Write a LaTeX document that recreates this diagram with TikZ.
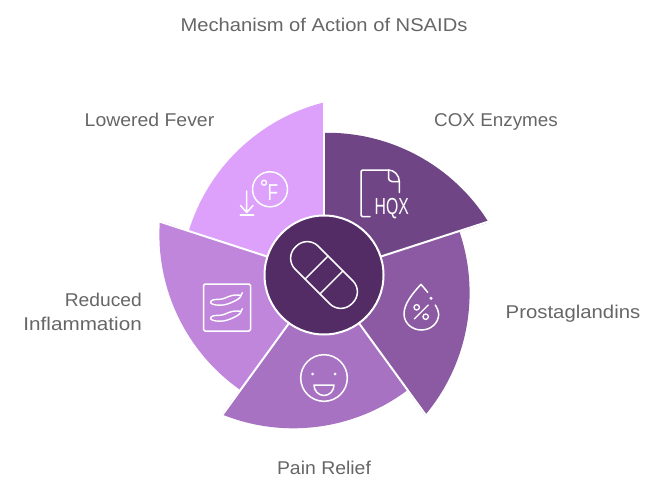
\documentclass[tikz,border=0pt]{standalone}
\usepackage{fontspec}
\setmainfont{Liberation Sans}
\definecolor{hubcol}{HTML}{532C66}
\definecolor{coxcol}{HTML}{6F4585}
\definecolor{procol}{HTML}{8C5AA2}
\definecolor{paincol}{HTML}{A872C2}
\definecolor{inflcol}{HTML}{BF86DC}
\definecolor{fevercol}{HTML}{DDA0FB}
\definecolor{labelcol}{HTML}{666666}
\tikzset{
  label text/.style={text=labelcol,font=\fontsize{18.5}{24}\selectfont,inner sep=0pt,anchor=base},
  icon/.style={draw=white,line width=1.5pt,line cap=round,line join=round},
  icon dot/.style={fill=white,draw=none},
  divider/.style={draw=white,line width=2pt},
}
% one petal of the wheel, turned by #1 about the hub
\newcommand{\petal}[2]{%
  \begin{scope}[shift={(324,275)},x=1pt,y=1pt,rotate=#1]
    \fill[#2] (0,0) -- (18:142.2) arc[start angle=19,end angle=-40.1,radius=190] -- cycle;
  \end{scope}}
% chilli pepper outline, lowered by #1
\newcommand{\pepper}[1]{%
  \draw[icon,line width=1.4pt,shift={(0,#1)}] (211,301)
    .. controls (214,298.5) and (218,300) .. (222,299)
    .. controls (227,297.8) and (230,295) .. (236,295)
    .. controls (238,295) and (240,295.2) .. (241,295.5)
    -- (242.3,292.7) (241,295.5)
    .. controls (241,297.5) and (238,299.5) .. (233.3,301.7)
    .. controls (229,303.7) and (225,305.2) .. (220,305.2)
    .. controls (215,305.2) and (208.5,304) .. (211,301);}
\begin{document}
\begin{tikzpicture}[x=1pt,y=-1pt]
\useasboundingbox (0,0) rectangle (660,492);

% wheel petals
\petal{0}{procol}
\petal{72}{coxcol}
\petal{144}{fevercol}
\petal{216}{inflcol}
\petal{288}{paincol}

% white separators between petals
\begin{scope}[shift={(324,275)},x=1pt,y=1pt]
  \foreach \a in {90,18,-54,-126,162}
    \draw[divider] (\a:50) -- (\a:176);
\end{scope}

% hub
\node[circle,fill=hubcol,draw=white,line width=2pt,minimum size=119pt,inner sep=0pt] (hub) at (324,275) {};

% capsule on the hub
\begin{scope}[shift={(hub.center)},x=1pt,y=1pt,rotate=-45]
  \draw[icon,rounded corners=15.5pt] (-40,-16.3) rectangle (40,16.3);
  \draw[icon] (-10.5,-16.3) -- (-10.5,16.3) (10.5,-16.3) -- (10.5,16.3);
\end{scope}

% file icon
\draw[icon,rounded corners=1.5pt] (370,216.7) -- (361,216.7) -- (361,170) -- (388.5,170);
\draw[icon] (388.5,170) .. controls (394,170) and (399.3,175) .. (399.3,181.5) -- (399.3,192.5);
\draw[icon] (388.5,170) -- (388.5,178) .. controls (388.5,180) and (390,181.5) .. (392,181.5) -- (399.3,181.5);
\node[inner sep=0pt,anchor=base,text=white,font=\fontsize{23.2}{24}\selectfont,xscale=.68] (hqx) at (391.7,214.5) {HQX};

% drop icon
\draw[icon] (427.7,292.3) -- (421,284.3) .. controls (412,294) and (404,304) .. (404,314)
  .. controls (404,323) and (412,330) .. (421.3,330)
  .. controls (431,330) and (438.7,323) .. (438.7,314)
  .. controls (438.7,311) and (437,308) .. (435.3,305);
\fill[icon dot] (431,298.3) circle[radius=1.7pt];
\draw[icon,line width=1.3pt] (416.7,307.3) circle[radius=2.7pt] (425.7,316.7) circle[radius=2.7pt];
\draw[icon,line width=1.3pt] (414.3,319) -- (428.3,305);

% smiling face
\draw[icon] (324,378) circle[radius=23.3pt];
\fill[icon dot] (312.7,374) circle[radius=1.5pt] (335,374) circle[radius=1.5pt];
\draw[icon] (314,385) -- (334,385) arc[start angle=0,end angle=-180,x radius=10pt,y radius=10.5pt] -- cycle;

% framed chilli peppers
\draw[icon,rounded corners=1.5pt] (203.5,284) rectangle (250.5,331);
\pepper{0}
\pepper{16}

% fever icon
\draw[icon] (270,189.3) circle[radius=17.5pt];
\draw[icon,line width=1.3pt] (264,182.7) circle[radius=2.5pt];
\node[inner sep=0pt,anchor=base,text=white,font=\fontsize{23}{24}\selectfont,xscale=.75] (deg) at (273,200.7) {F};
\draw[icon] (246.7,191) -- (246.7,212.5) (240.5,205.5) -- (246.7,212.5) -- (253,205.5);
\draw[icon] (240.3,215) -- (253.7,215);

% labels
\node[label text,xscale=1.09] (title) at (324,31.7) {Mechanism of Action of NSAIDs};
\node[label text,xscale=1.05] (lfever) at (149.5,126.7) {Lowered Fever};
\node[label text,xscale=1.02] (lcox) at (496,126.7) {COX Enzymes};
\node[label text,xscale=1.10] (lpro) at (573,318.7) {Prostaglandins};
\node[label text,xscale=1.05] (lpain) at (324,474.7) {Pain Relief};
\node[label text,anchor=base east,xscale=1.04] (lred) at (142,306.7) {Reduced};
\node[label text,anchor=base east,xscale=1.117] (linfl) at (142,330.7) {Inflammation};
\end{tikzpicture}
\end{document}
